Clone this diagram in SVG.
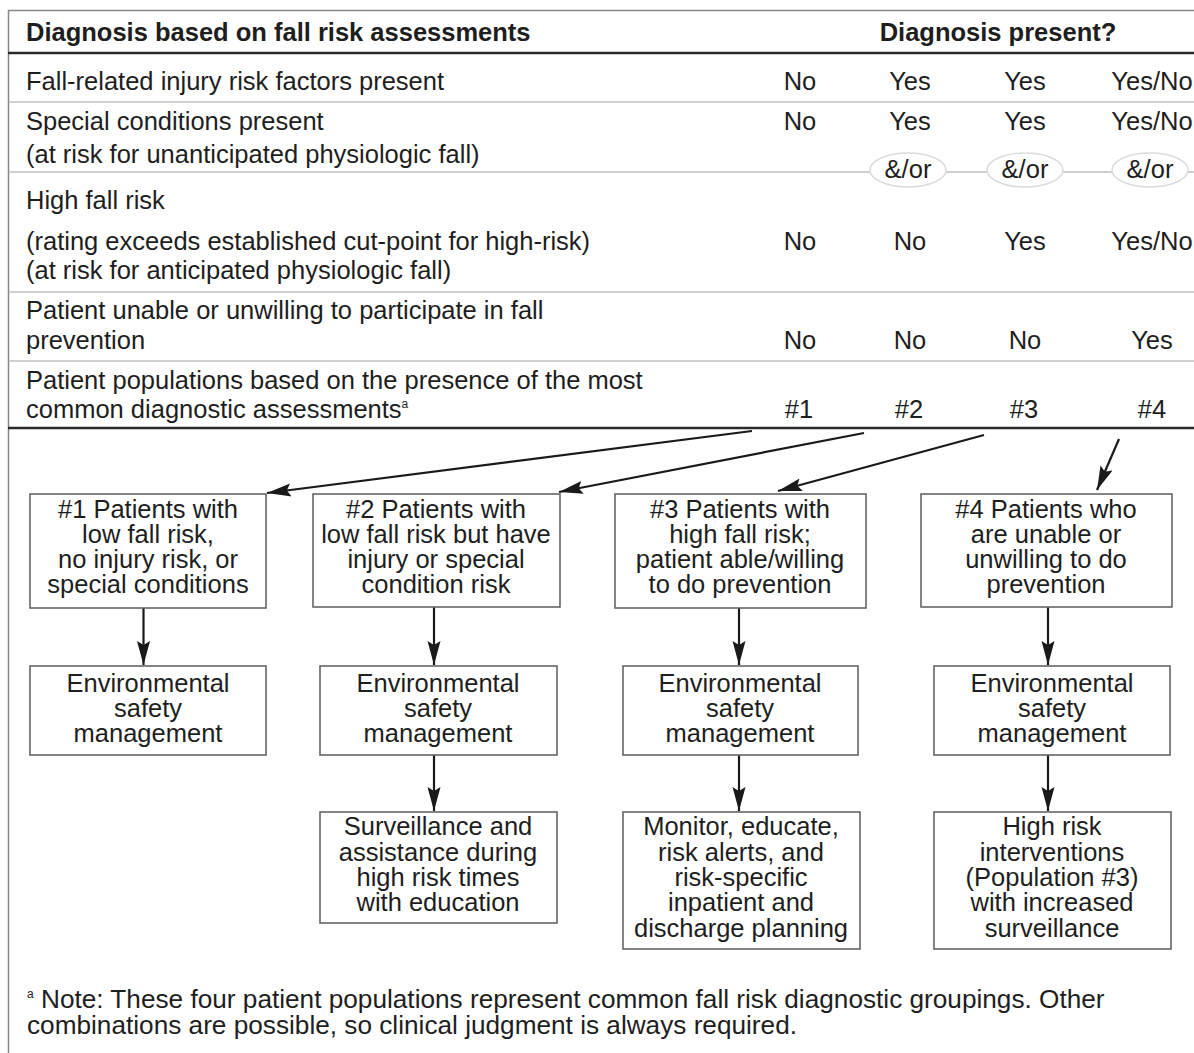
<svg xmlns="http://www.w3.org/2000/svg" width="1194" height="1053" viewBox="0 0 1194 1053">
<defs>
<style>
text{font-family:"Liberation Sans",Arial,Helvetica,sans-serif;font-size:25.5px;fill:#1e1e1e;}
.b{font-weight:bold;}
.m{text-anchor:middle;}
.sup{font-size:12px;}
.fn{font-size:26.2px;}
.sep{stroke:#cfcfcf;stroke-width:2;fill:none;}
.thick{stroke:#2a2a2a;stroke-width:2.5;fill:none;}
.frame{stroke:#888;stroke-width:1.5;fill:none;}
.box{fill:#fff;stroke:#666;stroke-width:1.6;}
.ell{fill:#fff;stroke:#dcdcdc;stroke-width:1.5;}
.conn{stroke:#1a1a1a;stroke-width:2.2;fill:none;marker-end:url(#ah);}
</style>
<marker id="ah" markerUnits="userSpaceOnUse" markerWidth="26" markerHeight="14" refX="24" refY="6.5" orient="auto">
<path d="M0,0 L24,6.5 L0,13 L4,6.5 Z" fill="#1a1a1a"/>
</marker>
</defs>
<rect width="1194" height="1053" fill="#fff"/>

<g id="table">
<path class="frame" d="M1194,10.5 H8.5 V1053"/>
<text class="b" x="26" y="41">Diagnosis based on fall risk assessments</text>
<text class="b m" x="998" y="41">Diagnosis present?</text>
<line class="thick" x1="8" y1="53" x2="1194" y2="53"/>

<text x="26" y="90">Fall-related injury risk factors present</text>
<text class="m" x="800" y="90">No</text>
<text class="m" x="910" y="90">Yes</text>
<text class="m" x="1025" y="90">Yes</text>
<text class="m" x="1152" y="90">Yes/No</text>
<line class="sep" x1="9" y1="102" x2="1194" y2="102"/>

<text x="26" y="130">Special conditions present</text>
<text x="26" y="163">(at risk for unanticipated physiologic fall)</text>
<text class="m" x="800" y="130">No</text>
<text class="m" x="910" y="130">Yes</text>
<text class="m" x="1025" y="130">Yes</text>
<text class="m" x="1152" y="130">Yes/No</text>
<line class="sep" x1="9" y1="172" x2="1194" y2="172"/>
<ellipse class="ell" cx="908" cy="170" rx="38" ry="17"/>
<ellipse class="ell" cx="1025" cy="170" rx="38" ry="17"/>
<ellipse class="ell" cx="1150" cy="170" rx="38" ry="17"/>
<text class="m" x="908" y="178">&amp;/or</text>
<text class="m" x="1025" y="178">&amp;/or</text>
<text class="m" x="1150" y="178">&amp;/or</text>

<text x="26" y="209">High fall risk</text>
<text x="26" y="250">(rating exceeds established cut-point for high-risk)</text>
<text x="26" y="279">(at risk for anticipated physiologic fall)</text>
<text class="m" x="800" y="250">No</text>
<text class="m" x="910" y="250">No</text>
<text class="m" x="1025" y="250">Yes</text>
<text class="m" x="1152" y="250">Yes/No</text>
<line class="sep" x1="9" y1="292" x2="1194" y2="292"/>

<text x="26" y="319">Patient unable or unwilling to participate in fall</text>
<text x="26" y="349">prevention</text>
<text class="m" x="800" y="349">No</text>
<text class="m" x="910" y="349">No</text>
<text class="m" x="1025" y="349">No</text>
<text class="m" x="1152" y="349">Yes</text>
<line class="sep" x1="9" y1="361" x2="1194" y2="361"/>

<text x="26" y="389">Patient populations based on the presence of the most</text>
<text x="26" y="418">common diagnostic assessments<tspan class="sup" dy="-10">a</tspan></text>
<text class="m" x="799" y="418">#1</text>
<text class="m" x="909" y="418">#2</text>
<text class="m" x="1024" y="418">#3</text>
<text class="m" x="1152" y="418">#4</text>
<line class="thick" x1="8" y1="428" x2="1194" y2="428"/>
</g>

<g id="connectors">
<line class="conn" x1="752" y1="431" x2="267" y2="493"/>
<line class="conn" x1="864" y1="433" x2="559" y2="492"/>
<line class="conn" x1="984" y1="435" x2="778" y2="491"/>
<line class="conn" x1="1119" y1="439" x2="1097" y2="490"/>
<line class="conn" x1="143.5" y1="608" x2="143.5" y2="665"/>
<line class="conn" x1="434" y1="607" x2="434" y2="665"/>
<line class="conn" x1="434" y1="755" x2="434" y2="811"/>
<line class="conn" x1="739" y1="608" x2="739" y2="665"/>
<line class="conn" x1="739" y1="755" x2="739" y2="811"/>
<line class="conn" x1="1048" y1="607" x2="1048" y2="665"/>
<line class="conn" x1="1048" y1="755" x2="1048" y2="811"/>
</g>

<g id="pop1">
<rect class="box" x="30" y="494" width="236" height="114"/>
<text class="m" x="148" y="518">#1 Patients with</text>
<text class="m" x="148" y="543">low fall risk,</text>
<text class="m" x="148" y="568">no injury risk, or</text>
<text class="m" x="148" y="593">special conditions</text>
</g>
<g id="pop2">
<rect class="box" x="313" y="494" width="247" height="113"/>
<text class="m" x="436" y="518">#2 Patients with</text>
<text class="m" x="436" y="543">low fall risk but have</text>
<text class="m" x="436" y="568">injury or special</text>
<text class="m" x="436" y="593">condition risk</text>
</g>
<g id="pop3">
<rect class="box" x="615" y="494" width="251" height="114"/>
<text class="m" x="740" y="518">#3 Patients with</text>
<text class="m" x="740" y="543">high fall risk;</text>
<text class="m" x="740" y="568">patient able/willing</text>
<text class="m" x="740" y="593">to do prevention</text>
</g>
<g id="pop4">
<rect class="box" x="921" y="494" width="251" height="113"/>
<text class="m" x="1046" y="518">#4 Patients who</text>
<text class="m" x="1046" y="543">are unable or</text>
<text class="m" x="1046" y="568">unwilling to do</text>
<text class="m" x="1046" y="593">prevention</text>
</g>

<g id="env1">
<rect class="box" x="30" y="666" width="236" height="89"/>
<text class="m" x="148" y="692">Environmental</text>
<text class="m" x="148" y="717">safety</text>
<text class="m" x="148" y="742">management</text>
</g>
<g id="env2">
<rect class="box" x="320" y="666" width="237" height="89"/>
<text class="m" x="438" y="692">Environmental</text>
<text class="m" x="438" y="717">safety</text>
<text class="m" x="438" y="742">management</text>
</g>
<g id="env3">
<rect class="box" x="623" y="666" width="235" height="89"/>
<text class="m" x="740" y="692">Environmental</text>
<text class="m" x="740" y="717">safety</text>
<text class="m" x="740" y="742">management</text>
</g>
<g id="env4">
<rect class="box" x="934" y="666" width="236" height="89"/>
<text class="m" x="1052" y="692">Environmental</text>
<text class="m" x="1052" y="717">safety</text>
<text class="m" x="1052" y="742">management</text>
</g>

<g id="surv2">
<rect class="box" x="320" y="812" width="237" height="111"/>
<text class="m" x="438" y="835">Surveillance and</text>
<text class="m" x="438" y="861">assistance during</text>
<text class="m" x="438" y="886">high risk times</text>
<text class="m" x="438" y="911">with education</text>
</g>
<g id="monitor3">
<rect class="box" x="623" y="812" width="237" height="137"/>
<text class="m" x="741" y="835">Monitor, educate,</text>
<text class="m" x="741" y="861">risk alerts, and</text>
<text class="m" x="741" y="886">risk-specific</text>
<text class="m" x="741" y="911">inpatient and</text>
<text class="m" x="741" y="937">discharge planning</text>
</g>
<g id="high4">
<rect class="box" x="934" y="812" width="237" height="137"/>
<text class="m" x="1052" y="835">High risk</text>
<text class="m" x="1052" y="861">interventions</text>
<text class="m" x="1052" y="886">(Population #3)</text>
<text class="m" x="1052" y="911">with increased</text>
<text class="m" x="1052" y="937">surveillance</text>
</g>

<g id="footnote">
<text class="fn" x="27" y="1008"><tspan class="sup" dy="-10">a</tspan><tspan dy="10"> Note: These four patient populations represent common fall risk diagnostic groupings. Other</tspan></text>
<text class="fn" x="27" y="1034">combinations are possible, so clinical judgment is always required.</text>
</g>
</svg>
